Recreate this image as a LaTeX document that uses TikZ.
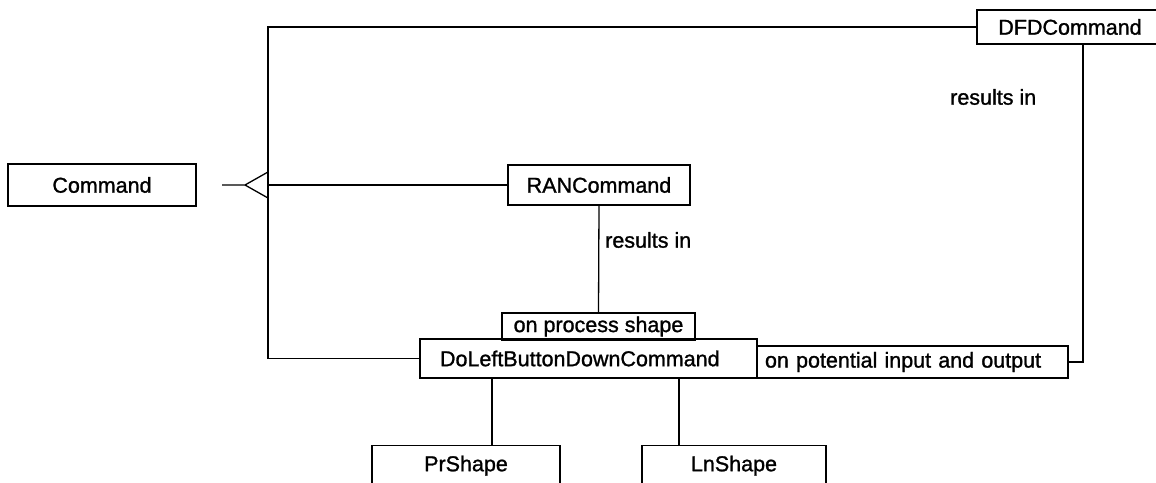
\documentclass[tikz,border=0pt]{standalone}
\usepackage{fontspec}
\setmainfont{Liberation Sans}[BoldFont={Liberation Sans}, BoldFeatures={FakeBold=1.2}]
\usetikzlibrary{calc}
\tikzset{
  box/.style={draw=black, line width=1.3pt, rectangle, inner sep=0pt,
    font=\fontsize{21.5}{24}\selectfont\bfseries},
  lbl/.style={inner sep=0pt, font=\fontsize{21.5}{24}\selectfont\bfseries},
  conn/.style={draw=black, line width=1.3pt}
}
\begin{document}
\begin{tikzpicture}[x=1pt,y=-1pt]
\useasboundingbox (0,0) rectangle (1156,482);
\fill[white] (0,0) rectangle (1156,482);
\clip (0,0) rectangle (1156,482);

% nodes
\node[box, minimum width=188pt, minimum height=42pt] (cmd) at (102,185) {Command};
\node[box, minimum width=186pt, minimum height=34pt] (dfd) at (1070,27) {DFDCommand};
\node[box, minimum width=182pt, minimum height=40pt] (ran) at (599,185) {RANCommand};
\node[box, minimum width=193pt, minimum height=27pt] (ops) at (598.5,326.5) {on process shape};
\node[box, minimum width=337pt, minimum height=39pt, text width=297pt, align=left] (dol) at (588.5,358.5) {DoLeftButtonDownCommand};
\node[box, minimum width=311pt, minimum height=32pt, text width=295pt, align=left] (opio) at (912.5,362) {on potential input and output};
\node[box, anchor=north, minimum width=188pt, minimum height=40pt] (pr) at (466,445) {PrShape};
\node[box, anchor=north, minimum width=184pt, minimum height=40pt] (ln) at (734,445) {LnShape};

\node[lbl, anchor=west] (r1) at (605,240) {results in};
\node[lbl, anchor=west] (r2) at (950,97) {results in};

% generalization
\coordinate (gs) at (222,185);
\coordinate (ga) at (245,185);
\coordinate (gt) at (268,172);
\coordinate (gb) at (268,198);
\coordinate (tb) at (268,358.5);
\draw[conn] (gs) -- (ga) -- (gt);
\draw[conn] (ga) -- (gb);
\draw[conn] (dfd.west) -| (tb) -- (dol.west);
\draw[conn] (ran.west) -- (ran.west -| tb);

% results in
\draw[conn] (ran.south) -- (ops.north);
\path (dfd.south) ++(13,0) coordinate (dd);
\draw[conn] (dd) |- (opio.east);

% parts
\path (pr.north) ++(26,0) coordinate (pl);
\draw[conn] (pl) -- (pl |- dol.south);
\path (ln.north) ++(-55,0) coordinate (ll);
\draw[conn] (ll) -- (ll |- dol.south);
\end{tikzpicture}
\end{document}
